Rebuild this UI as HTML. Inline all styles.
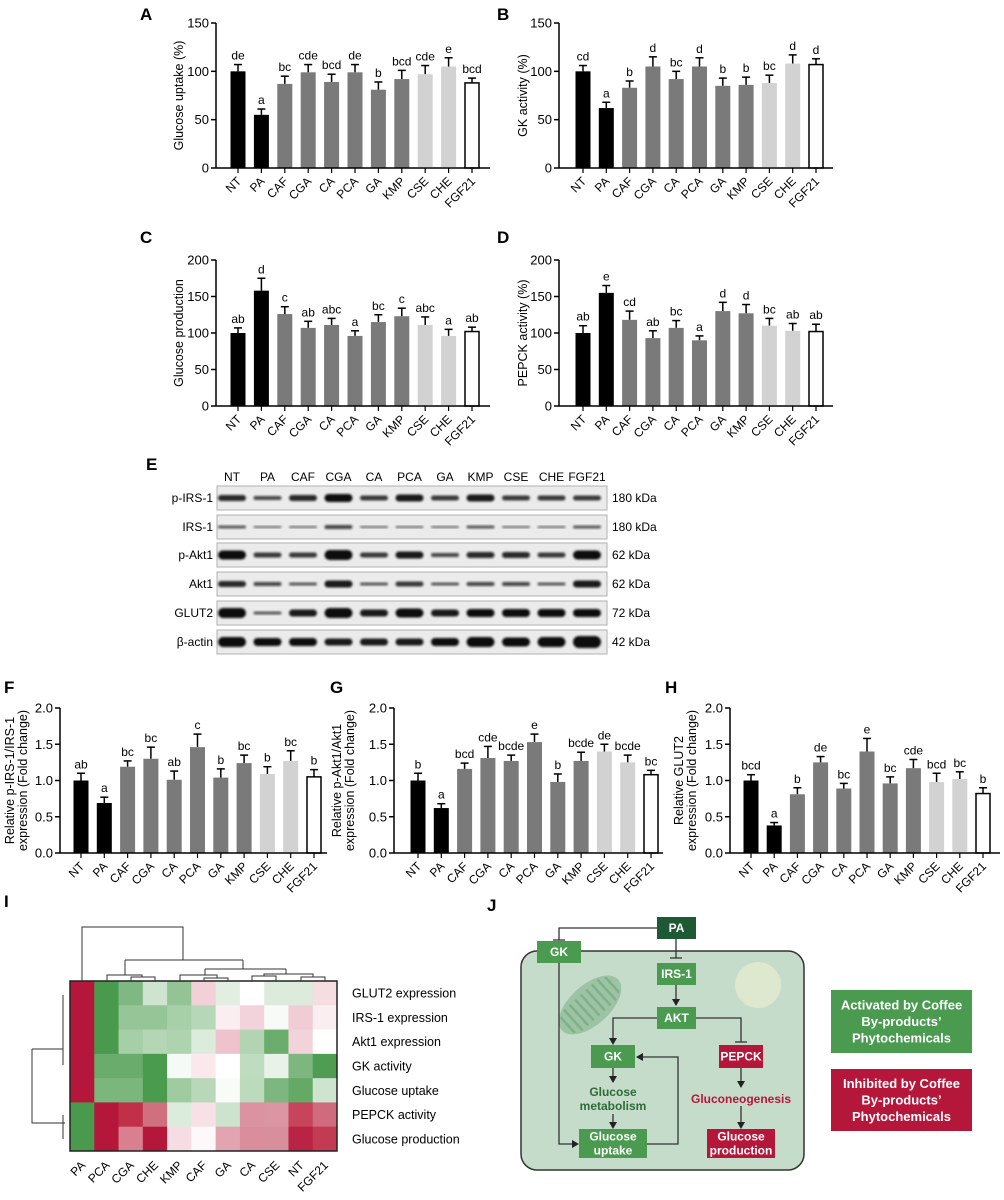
<!DOCTYPE html>
<html><head><meta charset="utf-8"><style>
html,body{margin:0;padding:0;background:#fff}
svg{display:block;font-family:"Liberation Sans",Arial,sans-serif}
</style></head><body>
<svg id="s" width="1004" height="1200" viewBox="0 0 1004 1200" xmlns="http://www.w3.org/2000/svg">
<defs><filter id="bl" x="-20%" y="-50%" width="140%" height="200%"><feGaussianBlur stdDeviation="1.1"/></filter>
<clipPath id="mc"><ellipse cx="590" cy="1005" rx="36" ry="19" transform="rotate(-42 590 1005)"/></clipPath></defs>
<g font-weight="bold" font-size="17">
<text x="140" y="20">A</text><text x="497" y="20">B</text>
<text x="140" y="243">C</text><text x="497" y="243">D</text>
<text x="146" y="470">E</text>
<text x="4" y="693">F</text><text x="330" y="693">G</text><text x="665" y="693">H</text>
<text x="4" y="907">I</text><text x="487" y="911">J</text>
</g>
</svg>
<script>
const S=document.getElementById('s');const NS='http://www.w3.org/2000/svg';
function el(t,a,txt){const e=document.createElementNS(NS,t);for(const k in a)e.setAttribute(k,a[k]);if(txt!==undefined)e.textContent=txt;S.appendChild(e);return e;}
const names=['NT','PA','CAF','CGA','CA','PCA','GA','KMP','CSE','CHE','FGF21'];
const fills=['#000','#000','#7a7a7a','#7a7a7a','#7a7a7a','#7a7a7a','#7a7a7a','#7a7a7a','#d2d2d2','#d2d2d2','#fff'];
function chart(o){
 const {ax,y0,yt,max,ticks,dec,c0,sp,end,data,ylab,ylx}=o;
 const sc=(y0-yt)/max;
 data.forEach((d,i)=>{
  const cx=c0+sp*i, top=y0-d[0]*sc, et=y0-(d[0]+d[1])*sc;
  el('line',{x1:cx,y1:top,x2:cx,y2:et,stroke:'#000','stroke-width':1.5});
  el('line',{x1:cx-4,y1:et,x2:cx+4,y2:et,stroke:'#000','stroke-width':1.5});
  if(i==10) el('rect',{x:cx-7,y:top,width:14,height:y0-top,fill:'#fff',stroke:'#000','stroke-width':1.5});
  else el('rect',{x:cx-7.5,y:top,width:15,height:y0-top-(i>=8?1:0),fill:fills[i]});
  el('text',{x:cx,y:et-5,'text-anchor':'middle','font-size':12},d[2]);
  el('line',{x1:cx,y1:y0,x2:cx,y2:y0+5,stroke:'#000','stroke-width':1.2});
  el('text',{x:cx+4,y:y0+14,'text-anchor':'end','font-size':12,transform:`rotate(-45 ${cx+4} ${y0+14})`},names[i]);
 });
 el('line',{x1:ax,y1:yt,x2:ax,y2:y0,stroke:'#000','stroke-width':1.5});
 el('line',{x1:ax,y1:y0,x2:end,y2:y0,stroke:'#000','stroke-width':1.5});
 ticks.forEach(t=>{const y=y0-t*sc;el('line',{x1:ax-5,y1:y,x2:ax,y2:y,stroke:'#000','stroke-width':1.5});
  el('text',{x:ax-7,y:y+4.5,'text-anchor':'end','font-size':13},dec?t.toFixed(1):t);});
 const cy=(y0+yt)/2;
 ylab.forEach((l,k)=>{const x=ylx+k*13;el('text',{x:x,y:cy,'text-anchor':'middle','font-size':12.5,transform:`rotate(-90 ${x} ${cy})`},l);});
}
chart({ax:216,y0:168,yt:23,max:150,ticks:[0,50,100,150],c0:238,sp:23.4,end:490,ylab:['Glucose uptake (%)'],ylx:183,
 data:[[100,7,'de'],[55,6,'a'],[87,8,'bc'],[99,8,'cde'],[89,8,'bcd'],[99,8,'de'],[81,8,'b'],[92,9,'bcd'],[97,9,'cde'],[105,9,'e'],[88,5,'bcd']]});
chart({ax:559,y0:168,yt:23,max:150,ticks:[0,50,100,150],c0:583,sp:23.3,end:833,ylab:['GK activity (%)'],ylx:527,
 data:[[100,6,'cd'],[62,6,'a'],[83,7,'b'],[105,10,'d'],[92,8,'bc'],[105,9,'d'],[85,8,'b'],[86,8,'b'],[88,8,'bc'],[108,9,'d'],[107,6,'d']]});
chart({ax:216,y0:406,yt:260,max:200,ticks:[0,50,100,150,200],c0:238,sp:23.4,end:490,ylab:['Glucose production'],ylx:183,
 data:[[100,7,'ab'],[158,17,'d'],[126,10,'c'],[107,9,'ab'],[111,9,'abc'],[96,7,'a'],[115,10,'bc'],[123,11,'c'],[111,11,'abc'],[96,9,'a'],[102,6,'ab']]});
chart({ax:559,y0:406,yt:260,max:200,ticks:[0,50,100,150,200],c0:583,sp:23.3,end:833,ylab:['PEPCK activity (%)'],ylx:527,
 data:[[100,10,'ab'],[155,10,'e'],[118,12,'cd'],[93,10,'ab'],[107,10,'bc'],[90,6,'a'],[130,12,'d'],[127,12,'d'],[110,10,'bc'],[103,10,'ab'],[102,10,'ab']]});
chart({ax:60,y0:853,yt:708,max:2,ticks:[0,0.5,1,1.5,2],dec:1,c0:81,sp:23.3,end:327,ylab:['Relative p-IRS-1/IRS-1','expression (Fold change)'],ylx:14,
 data:[[1,0.1,'ab'],[0.69,0.08,'a'],[1.19,0.08,'bc'],[1.3,0.16,'bc'],[1.01,0.12,'ab'],[1.46,0.18,'c'],[1.04,0.12,'b'],[1.24,0.11,'bc'],[1.09,0.1,'b'],[1.27,0.14,'bc'],[1.05,0.1,'b']]});
chart({ax:394,y0:853,yt:708,max:2,ticks:[0,0.5,1,1.5,2],dec:1,c0:418,sp:23.3,end:663,ylab:['Relative p-Akt1/Akt1','expression (Fold change)'],ylx:341,
 data:[[1,0.1,'b'],[0.62,0.06,'a'],[1.16,0.08,'bcd'],[1.31,0.16,'cde'],[1.27,0.08,'bcde'],[1.53,0.11,'e'],[0.98,0.11,'b'],[1.27,0.12,'bcde'],[1.4,0.1,'de'],[1.25,0.1,'bcde'],[1.08,0.06,'bc']]});
chart({ax:730,y0:853,yt:708,max:2,ticks:[0,0.5,1,1.5,2],dec:1,c0:751,sp:23.2,end:1000,ylab:['Relative GLUT2','expression (Fold change)'],ylx:683,
 data:[[1,0.08,'bcd'],[0.38,0.04,'a'],[0.81,0.09,'b'],[1.25,0.08,'de'],[0.89,0.07,'bc'],[1.4,0.18,'e'],[0.96,0.09,'bc'],[1.17,0.12,'cde'],[0.98,0.12,'bcd'],[1.02,0.1,'bc'],[0.82,0.08,'b']]});
// Western blot
const rows=[['p-IRS-1','180 kDa',486,[6,4,6,8,5,7,5,7,5,5,5]],['IRS-1','180 kDa',515,[3,2,2,4,2,2,2,3,2,2,3]],['p-Akt1','62 kDa',543,[9,5,5,10,5,7,4,6,6,5,9]],
['Akt1','62 kDa',572,[6,4,3,7,3,5,3,4,4,3,7]],['GLUT2','72 kDa',601,[10,3,7,10,7,9,7,8,8,8,8]],['β-actin','42 kDa',630,[10,8,8,7,7,7,8,10,9,10,12]]];
names.forEach((n,i)=>el('text',{x:232+35.5*i,y:481,'text-anchor':'middle','font-size':12},n));
rows.forEach(r=>{const y=r[2],h=24;
 el('rect',{x:217,y:y,width:390,height:h,fill:'#ebebeb',stroke:'#b0b0b0','stroke-width':1});
 el('text',{x:213,y:y+16,'text-anchor':'end','font-size':12},r[0]);
 el('text',{x:612,y:y+16,'font-size':12},r[1]);
 r[3].forEach((t,i)=>{const cx=232+35.5*i;el('rect',{x:cx-14,y:y+h/2-t/2,width:28,height:t,rx:t/2,fill:'#111',opacity:Math.min(1,0.45+t*0.07),filter:'url(#bl)'});});
});
// Heatmap
const C={R:'#b5173a',G:'#4a9a4e'};
const hm=[
['R','G','#80b884','#cfe4cf','#94c496','#f2d0d8','#e2eee2','#ffffff','#dcebdc','#dcebdc','#f5dde2'],
['R','G','#96c698','#96c698','#a7cfa8','#b7d8b8','#fbeef1','#f3d3db','#f7faf7','#f0ccd5','#fbeef0'],
['R','G','#a6cea7','#b5d6b5','#afd2af','#dcecdc','#efc3ce','#b3d4b3','#6aad6c','#f2d3da','#ffffff'],
['R','#6aac6c','#6aac6c','#4b9b4e','#f6faf6','#fae8ec','#ffffff','#c0dcc0','#e8f2e8','#7db77f','#4f9d52'],
['R','#7bb67d','#7bb67d','#4b9b4e','#a0cba1','#b8d8b9','#f8fbf8','#bcdabc','#7db77f','#64a966','#cfe4cf'],
['G','R','#c03049','#d0707f','#dcecdc','#f8e1e6','#cde3cd','#dc93a1','#dc95a3','#c6455c','#cf6b7c'],
['G','R','#d8808f','R','#f6dde3','#fdf8f9','#e2a4b1','#da8e9c','#d98e9c','#ba2444','#c23b53']];
const hx=70,hy=981,cw=267/11,rh=170/7;
hm.forEach((r,j)=>r.forEach((c,i)=>el('rect',{x:hx+i*cw,y:hy+j*rh,width:cw+0.5,height:rh+0.5,fill:C[c]||c})));
el('rect',{x:hx,y:hy,width:267,height:170,fill:'none',stroke:'#222','stroke-width':1.5});
['GLUT2 expression','IRS-1 expression','Akt1 expression','GK activity','Glucose uptake','PEPCK activity','Glucose production'].forEach((t,j)=>el('text',{x:352,y:hy+j*rh+rh/2+4.5,'font-size':12.5},t));
['PA','PCA','CGA','CHE','KMP','CAF','GA','CA','CSE','NT','FGF21'].forEach((n,i)=>{const cx=hx+cw*(i+0.5)+4,y=1166;el('text',{x:cx,y:y,'text-anchor':'end','font-size':12,transform:`rotate(-45 ${cx} ${y})`},n);});
function pth(d){el('path',{d:d,fill:'none',stroke:'#333','stroke-width':1});}
pth('M82 981V927H183V960');
pth('M125 960H243');pth('M125 960V975');pth('M243 960V969');
pth('M107 981V975H142V977');pth('M131 981V977H155V981');
pth('M205 969H286');pth('M205 969V975');pth('M286 969V974');
pth('M180 981V975H217V978');pth('M204 981V978H228V981');
pth('M252 981V976H276V981');pth('M264 976V974H313V977');pth('M301 981V977H325V981');
pth('M32 1049V1123H65');pth('M32 1049H63');pth('M63 995V1065');pth('M63 1115V1139');
// J diagram
el('rect',{x:521,y:951,width:283,height:219,rx:16,fill:'#c5dccb',stroke:'#333','stroke-width':1.5});
el('ellipse',{cx:590,cy:1005,rx:38,ry:20,fill:'#9cc4a4',transform:'rotate(-42 590 1005)'});
const g=el('g',{'clip-path':'url(#mc)'});
for(let k=-4;k<=4;k++){const l=document.createElementNS(NS,'line');const cx=590+k*7.5*Math.cos(-42*Math.PI/180),cy=1005+k*7.5*Math.sin(-42*Math.PI/180);
 const dx=Math.sin(42*Math.PI/180)*14,dy=Math.cos(42*Math.PI/180)*14;
 l.setAttribute('x1',cx-dx);l.setAttribute('y1',cy-dy);l.setAttribute('x2',cx+dx);l.setAttribute('y2',cy+dy);l.setAttribute('stroke','#7fb08a');l.setAttribute('stroke-width','2.5');g.appendChild(l);}
el('circle',{cx:758,cy:985,r:23,fill:'#dde8cf'});
function box(x,y,w,h,f,lines,fs,ls){ls=ls||fs*1.1;el('rect',{x:x,y:y,width:w,height:h,fill:f});
 lines.forEach((l,k)=>el('text',{x:x+w/2,y:y+h/2+fs*0.35+(k-(lines.length-1)/2)*ls,'text-anchor':'middle','font-size':fs,'font-weight':'bold',fill:'#fff'},l));}
function ln(d){el('path',{d:d,fill:'none',stroke:'#333','stroke-width':1.3});}
function arr(x,y,dir){const p={d:`${x},${y} ${x-4},${y-7} ${x+4},${y-7}`,r:`${x},${y} ${x-7},${y-4} ${x-7},${y+4}`,l:`${x},${y} ${x+7},${y-4} ${x+7},${y+4}`}[dir];el('polygon',{points:p,fill:'#222'});}
ln('M657 928H559V940');ln('M553 940H565');
ln('M676 939V958');ln('M670 958H682');
ln('M676 985V1005');arr(676,1006,'d');
ln('M657 1018H613V1043');arr(613,1045,'d');
ln('M696 1018H741V1042');ln('M735 1042H747');
ln('M613 1068V1082');arr(613,1083,'d');
ln('M613 1114V1127');arr(613,1129,'d');
ln('M647 1144H678V1057H637');arr(636,1057,'l');
ln('M559 963V1144H577');arr(579,1144,'r');
ln('M741 1068V1086');arr(741,1088,'d');
ln('M741 1106V1127');arr(741,1129,'d');
box(657,917,39,22,'#1d5a33',['PA'],12);
box(537,941,44,22,'#4a9a50',['GK'],12);
box(657,963,39,22,'#4a9a50',['IRS-1'],12);
box(657,1007,39,22,'#4a9a50',['AKT'],12);
box(591,1045,44,23,'#4a9a50',['GK'],12);
box(719,1045,44,23,'#b5173a',['PEPCK'],12);
box(579,1129,68,29,'#4a9a50',['Glucose','uptake'],12,14);
box(707,1129,68,29,'#b5173a',['Glucose','production'],12,14);
el('text',{x:613,y:1096,'text-anchor':'middle','font-size':12,'font-weight':'bold',fill:'#2e6b36'},'Glucose');
el('text',{x:613,y:1110,'text-anchor':'middle','font-size':12,'font-weight':'bold',fill:'#2e6b36'},'metabolism');
el('text',{x:741,y:1103,'text-anchor':'middle','font-size':12,'font-weight':'bold',fill:'#b5173a'},'Gluconeogenesis');
box(831,990,141,63,'#4a9a50',['Activated by Coffee','By-products’','Phytochemicals'],13,16.5);
box(831,1069,141,62,'#b5173a',['Inhibited by Coffee','By-products’','Phytochemicals'],13,16.5);
</script>
</body></html>
